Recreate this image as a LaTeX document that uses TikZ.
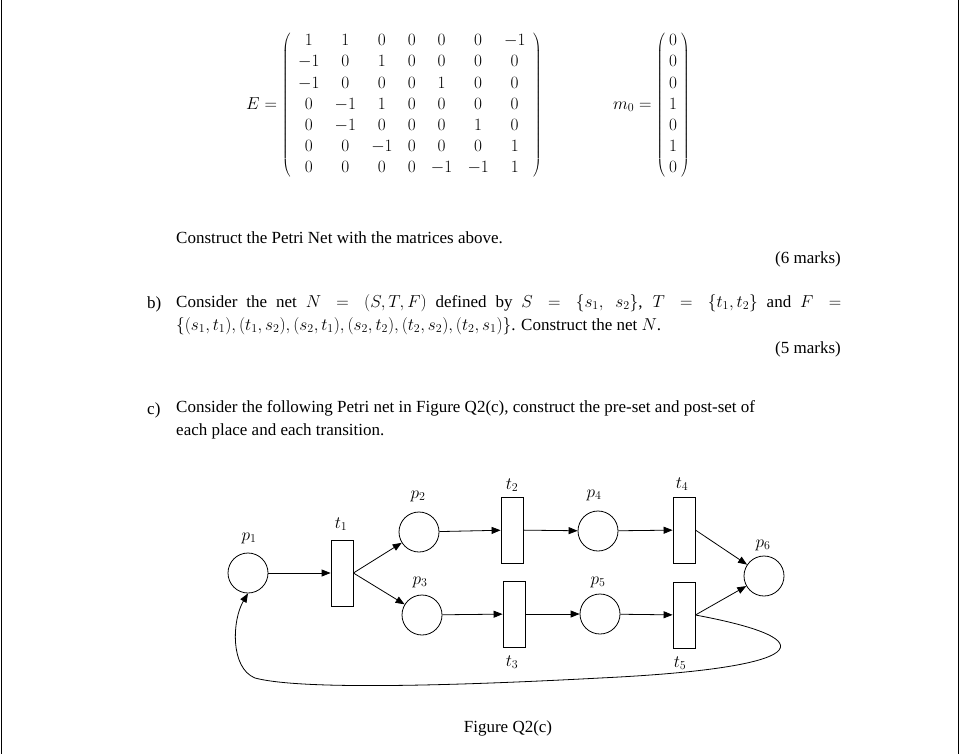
\documentclass[tikz,border=0pt]{standalone}
\usepackage{fontspec}
\setmainfont{Liberation Serif}
\usetikzlibrary{arrows.meta}
\begin{document}
\begin{tikzpicture}[x=1pt,y=-1pt,
  place/.style={circle,draw,thick,minimum size=40pt,inner sep=0pt},
  trans/.style={rectangle,draw,thick,minimum width=22pt,minimum height=66pt,inner sep=0pt},
  lbl/.style={font=\fontsize{17}{20}\selectfont,inner sep=0pt},
  txt/.style={font=\fontsize{17}{23}\selectfont,inner sep=0pt,anchor=west},
  arc/.style={thick,-{Triangle[length=9pt,width=7pt]}}]
\useasboundingbox (0,0) rectangle (960,754);
\draw[line width=1pt] (1,0)--(1,754) (958,0)--(958,754);
\node[lbl,anchor=east] (E) at (542,105) {\fontsize{17}{20}\selectfont\setlength{\arraycolsep}{7.6pt}$E=\left(\renewcommand{\arraystretch}{1.06}\begin{array}{ccccccc}
1&1&0&0&0&0&-1\\ -1&0&1&0&0&0&0\\ -1&0&0&0&1&0&0\\ 0&-1&1&0&0&0&0\\ 0&-1&0&0&0&1&0\\ 0&0&-1&0&0&0&1\\ 0&0&0&0&-1&-1&1\end{array}\right)$};
\node[lbl,anchor=east] (m) at (690,105) {\fontsize{17}{20}\selectfont\setlength{\arraycolsep}{4pt}$m_0=\left(\renewcommand{\arraystretch}{1.06}\begin{array}{c}0\\0\\0\\1\\0\\1\\0\end{array}\right)$};
\node[txt] (l1) at (176,238) {Construct the Petri Net with the matrices above.};
\node[txt,anchor=east] (mk1) at (841,259) {(6 marks)};
\node[txt] (b) at (147,304) {b)};
\node[txt,anchor=north west,text width=665pt,align=justify] (bt) at (176,294) {Consider the net $N=(S,T,F)$ defined by $S=\{s_1,\ s_2\}$, $T=\{t_1,t_2\}$ and $F=$\linebreak $\{(s_1,t_1),(t_1,s_2),(s_2,t_1),(s_2,t_2),(t_2,s_2),(t_2,s_1)\}$. Construct the net $N$.};
\node[txt,anchor=east] (mk2) at (841,349) {(5 marks)};
\node[txt] (c) at (147,410) {c)};
\node[txt,anchor=north west,align=left] (ct) at (176,400) {Consider the following Petri net in Figure Q2(c), construct the pre-set and post-set of\\ each place and each transition.};
\node[place] (p1) at (248,573) {};
\node[trans] (t1) at (342,573) {};
\node[place] (p2) at (419,532) {};
\node[place] (p3) at (422,615) {};
\node[trans] (t2) at (512,530) {};
\node[trans] (t3) at (514,614) {};
\node[place] (p4) at (598,531) {};
\node[place] (p5) at (600,614) {};
\node[trans] (t4) at (684,530) {};
\node[trans] (t5) at (684,615) {};
\node[place] (p6) at (764,576) {};
\node[lbl] (lp1) at (249,538) {$p_1$};
\node[lbl] (lt1) at (341,524) {$t_1$};
\node[lbl] (lp2) at (418,496) {$p_2$};
\node[lbl] (lt2) at (512,485) {$t_2$};
\node[lbl] (lp4) at (594,495) {$p_4$};
\node[lbl] (lt4) at (682,484) {$t_4$};
\node[lbl] (lp6) at (763,545) {$p_6$};
\node[lbl] (lp3) at (420,582) {$p_3$};
\node[lbl] (lp5) at (598,582) {$p_5$};
\node[lbl] (lt3) at (512,662) {$t_3$};
\node[lbl] (lt5) at (680,663) {$t_5$};
\draw[arc] (p1) -- (t1);
\draw[arc] (t1.east) -- (p2);
\draw[arc] (t1.east) -- (p3);
\draw[arc] (p2) -- (t2);
\draw[arc] (p3) -- (t3);
\draw[arc] (t2) -- (p4);
\draw[arc] (t3) -- (p5);
\draw[arc] (p4) -- (t4);
\draw[arc] (p5) -- (t5);
\draw[arc] (t4.east) -- (p6);
\draw[arc] (t5.east) -- (p6);
\draw[arc] (t5.east) .. controls (830,640) and (810,668) .. (600,678) .. controls (450,686) and (300,690) .. (255,678) .. controls (230,668) and (232,620) .. (p1.south);
\node[txt,anchor=center] (fig) at (508,728) {Figure Q2(c)};
\end{tikzpicture}
\end{document}
